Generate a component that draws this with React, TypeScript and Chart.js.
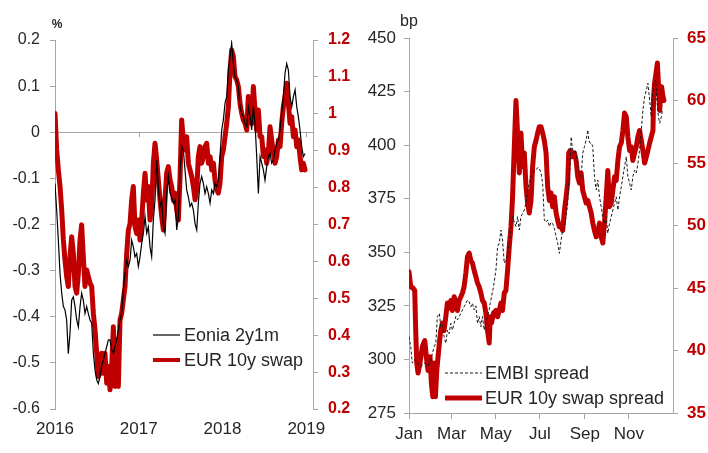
import React, { useEffect, useRef } from "react";
import { Chart, registerables } from "chart.js";

Chart.register(...registerables);

const FONT = "'Liberation Sans', Arial, sans-serif";
const RED = "#c00000";
const AXIS = "#a6a6a6";
const TEXT = "#262626";

// ---------- Left panel: Eonia 2y1m (%, left axis) vs EUR 10y swap (%, right axis), weekly ----------
const leftYears = [
  2016.000, 2016.020, 2016.040, 2016.060, 2016.080, 2016.100, 2016.119, 2016.139, 2016.159, 2016.179,
  2016.199, 2016.219, 2016.239, 2016.259, 2016.279, 2016.299, 2016.318, 2016.338, 2016.358, 2016.378,
  2016.398, 2016.418, 2016.438, 2016.458, 2016.478, 2016.498, 2016.517, 2016.537, 2016.557, 2016.577,
  2016.597, 2016.617, 2016.637, 2016.657, 2016.677, 2016.697, 2016.716, 2016.736, 2016.756, 2016.776,
  2016.796, 2016.816, 2016.836, 2016.856, 2016.876, 2016.896, 2016.915, 2016.935, 2016.955, 2016.975,
  2016.995, 2017.015, 2017.035, 2017.055, 2017.075, 2017.095, 2017.114, 2017.134, 2017.154, 2017.174,
  2017.194, 2017.214, 2017.234, 2017.254, 2017.274, 2017.294, 2017.313, 2017.333, 2017.353, 2017.373,
  2017.393, 2017.413, 2017.433, 2017.453, 2017.473, 2017.493, 2017.512, 2017.532, 2017.552, 2017.572,
  2017.592, 2017.612, 2017.632, 2017.652, 2017.672, 2017.692, 2017.711, 2017.731, 2017.751, 2017.771,
  2017.791, 2017.811, 2017.831, 2017.851, 2017.871, 2017.891, 2017.910, 2017.930, 2017.950, 2017.970,
  2017.990, 2018.010, 2018.030, 2018.050, 2018.070, 2018.090, 2018.109, 2018.129, 2018.149, 2018.169,
  2018.189, 2018.209, 2018.229, 2018.249, 2018.269, 2018.289, 2018.308, 2018.328, 2018.348, 2018.368,
  2018.388, 2018.408, 2018.428, 2018.448, 2018.468, 2018.488, 2018.507, 2018.527, 2018.547, 2018.567,
  2018.587, 2018.607, 2018.627, 2018.647, 2018.667, 2018.687, 2018.706, 2018.726, 2018.746, 2018.766,
  2018.786, 2018.806, 2018.826, 2018.846, 2018.866, 2018.886, 2018.905, 2018.925, 2018.945, 2018.965,
  2018.985,
];

const eonia2y1m = [
  -0.111, -0.169, -0.234, -0.306, -0.349, -0.378, -0.385, -0.407, -0.480, -0.436,
  -0.364, -0.357, -0.378, -0.407, -0.422, -0.378, -0.349, -0.364, -0.393, -0.378,
  -0.393, -0.407, -0.414, -0.479, -0.516, -0.537, -0.545, -0.530, -0.508, -0.494,
  -0.479, -0.465, -0.450, -0.450, -0.472, -0.479, -0.465, -0.450, -0.429, -0.407,
  -0.393, -0.342, -0.306, -0.277, -0.291, -0.277, -0.234, -0.248, -0.270, -0.263,
  -0.291, -0.270, -0.241, -0.219, -0.183, -0.219, -0.205, -0.248, -0.270, -0.190,
  -0.147, -0.060, -0.118, -0.161, -0.147, -0.205, -0.219, -0.132, -0.096, -0.132,
  -0.140, -0.154, -0.147, -0.212, -0.183,
  -0.082, -0.031, -0.039, -0.082, -0.125, -0.140, -0.161, -0.154, -0.169, -0.198,
  -0.212, -0.154, -0.111, -0.096, -0.111, -0.133, -0.118, -0.133, -0.154, -0.125,
  -0.133, -0.111, -0.118, -0.104, -0.053, 0.005, 0.027, 0.063, 0.077, 0.135,
  0.164, 0.193, 0.149, 0.120, 0.113, 0.099, 0.055, 0.041, 0.034, 0.019,
  0.012, 0.055, 0.034, 0.005, 0.055, 0.019, -0.053, -0.133, -0.053, -0.067,
  -0.082, -0.104, -0.075, -0.053, -0.046, -0.067, -0.060, -0.039, -0.024, -0.017,
  0.005, 0.041, 0.077, 0.128, 0.149, 0.135, 0.077, 0.055, 0.077, 0.092,
  0.055, 0.034, 0.005, -0.031, -0.053, -0.046,
];

const eur10ySwap = [
  1.001, 0.902, 0.848, 0.803, 0.739, 0.658, 0.604, 0.559, 0.532, 0.613,
  0.667, 0.622, 0.532, 0.514, 0.568, 0.658, 0.699, 0.613, 0.532, 0.577,
  0.559, 0.541, 0.532, 0.459, 0.414, 0.351, 0.288, 0.297, 0.351, 0.297,
  0.351, 0.270, 0.315, 0.252, 0.315, 0.423, 0.261, 0.387, 0.261, 0.441,
  0.459, 0.496, 0.532, 0.622, 0.685, 0.703, 0.766, 0.803, 0.694, 0.676,
  0.712, 0.658, 0.712, 0.785, 0.839, 0.766, 0.803, 0.712, 0.748, 0.866,
  0.920, 0.875, 0.821, 0.766, 0.721, 0.685, 0.766, 0.839, 0.857, 0.821,
  0.803, 0.766, 0.785, 0.739, 0.712,
  0.830, 0.983, 0.929, 0.902, 0.938, 0.866, 0.848, 0.830, 0.803, 0.767,
  0.794, 0.884, 0.911, 0.866, 0.884, 0.911, 0.920, 0.866, 0.884, 0.848,
  0.866, 0.821, 0.794, 0.785, 0.812, 0.884, 0.902, 0.938, 0.974, 1.019,
  1.119, 1.173, 1.155, 1.101, 1.092, 1.074, 1.028, 1.001, 0.983, 0.974,
  0.956, 1.047, 1.010, 0.974, 1.074, 1.010, 0.956, 1.010, 0.938, 0.938,
  0.884, 0.902, 0.866, 0.893, 0.965, 0.929, 0.893, 0.866, 0.884, 0.929,
  0.911, 0.974, 1.019, 1.047, 1.083, 1.028, 0.974, 0.992, 0.938, 0.956,
  0.911, 0.929, 0.884, 0.848, 0.866, 0.848,
];

const leftYearTicks = [2016, 2017, 2018, 2019];
const leftPctTicks = [-0.6, -0.5, -0.4, -0.3, -0.2, -0.1, 0, 0.1, 0.2];
const leftSwapTicks = [0.2, 0.3, 0.4, 0.5, 0.6, 0.7, 0.8, 0.9, 1.0, 1.1, 1.2];

// ---------- Right panel: EMBI spread (bp, left axis) vs EUR 10y swap spread (bp, right axis), day of year ----------
const spreadDays = [
  0, 2.4, 5.5, 7.9, 9.3, 10.7, 12.5, 15.2, 18.4, 21.8,
  24.5, 26.3, 29.1, 30.9, 32.9, 34.7, 36.5, 38.4, 40.2, 42.0,
  43.9, 46.2, 48.5, 50.9, 53.1, 55.4, 57.8, 60.0, 62.4, 64.7,
  67.0, 69.3, 71.7, 73.9, 76.2, 78.6, 80.8, 83.2, 85.5, 87.7,
  90.1, 92.5, 94.7, 97.0, 99.4, 101.6, 104.0, 106.3, 108.5, 110.9,
  112.3, 114.1, 116.9, 120.2, 122.4, 124.8, 127.1, 129.3, 131.7, 134.0,
  136.3, 138.6, 141.0, 143.2, 144.6, 147.9, 150.1, 152.5, 154.8, 157.1,
  159.4, 161.8, 164.0, 166.3, 168.7, 170.9, 173.3, 175.6, 177.9, 180.2,
  182.6, 184.8, 187.1, 189.5, 191.7, 194.1, 196.4, 198.6, 201.0, 203.4,
  205.6, 207.9, 210.3, 212.5, 214.9, 217.2, 219.4, 220.8, 222.8, 225.5,
  228.7, 231.1, 233.3, 235.7, 238.0, 240.2, 242.6, 244.9, 247.2, 249.5,
  251.9, 254.1, 256.4, 258.8, 261.0, 263.4, 265.7, 268.0, 270.3, 272.7,
  274.9, 277.2, 279.6, 281.8, 284.2, 286.5, 288.8, 291.1, 293.5, 295.7,
  298.0, 300.4, 302.6, 305.0, 307.3, 309.5, 311.9, 314.2, 316.5, 318.8,
  321.2, 323.4, 325.8, 328.1, 330.3, 332.7, 335.0, 337.3, 338.2, 339.6,
  342.0, 343.4, 344.8, 346.6, 348.0, 349.3, 351.1, 352.5,
];

const eurSwapSpread = [
  46.3, 45.1, 45.0, 44.8, 41.6, 39.0, 38.2, 39.0, 40.3, 40.8,
  39.2, 38.4, 39.5, 37.4, 36.3, 39.0, 36.3, 38.4, 39.5, 40.6,
  41.6, 42.2, 41.6, 42.7, 43.8, 43.4, 44.0, 43.2, 44.3, 43.8,
  43.2, 44.0, 44.3, 44.6, 45.1, 46.2, 47.5, 47.8, 47.2, 47.0,
  46.4, 45.9, 45.4, 45.1, 44.6, 44.0, 43.8, 43.0, 41.6, 40.6,
  42.7, 42.2, 43.0, 43.2, 42.7, 43.2, 43.8, 43.2, 44.6, 44.8,
  46.4, 48.3, 49.9, 52.3, 54.7, 60.0, 57.4, 54.2, 57.4, 54.7,
  55.8, 53.1, 51.8, 51.0, 52.0, 54.7, 56.3, 56.8, 57.4, 57.9,
  57.9, 57.4, 56.8, 55.8, 53.1, 52.0, 52.6, 51.5, 52.3, 51.0,
  50.4, 49.9, 49.9, 49.6, 51.2, 52.3, 53.4, 55.8, 56.0, 55.5,
  55.8, 55.2, 53.9, 53.4, 54.2, 52.8, 52.3, 51.8, 52.0, 51.5,
  51.0, 50.2, 49.6, 49.1, 49.4, 50.2, 49.1, 48.6, 50.2, 52.3,
  54.4, 51.5, 51.8, 52.8, 53.9, 53.6, 55.2, 56.3, 56.6, 57.6,
  59.0, 58.7, 57.1, 56.0, 56.3, 55.2, 55.8, 56.3, 57.1, 57.6,
  56.8, 56.0, 55.0, 55.5, 56.0, 56.6, 57.1, 57.6, 60.3, 61.4,
  62.4, 63.0, 61.4, 59.2, 60.6, 61.1, 60.3, 60.0,
];

const embiDays = [
  0, 2.4, 4.6, 7.9, 11.5, 16.2, 21.8, 26.3, 30.1, 34.7,
  37.0, 39.2, 42.0, 43.9, 46.2, 48.5, 50.9, 53.1, 55.4, 57.8,
  60.0, 62.4, 64.7, 67.0, 69.3, 71.7, 73.9, 76.2, 78.6, 80.8,
  83.2, 85.5, 87.7, 90.1, 92.5, 94.7, 97.0, 99.4, 101.6, 104.0,
  106.3, 108.5, 110.9, 112.3, 116.9, 120.2, 122.4, 124.8, 127.1, 129.3,
  131.7, 134.0, 136.3, 138.6, 141.0, 143.2, 144.6, 147.9, 150.1, 152.5,
  154.8, 159.4, 161.8, 164.0, 166.3, 168.7, 173.3, 175.6, 177.9, 180.2,
  182.6, 184.8, 187.1, 189.5, 191.7, 194.1, 196.4, 198.6, 201.0, 203.4,
  205.6, 207.9, 210.3, 212.5, 214.9, 217.2, 219.4, 220.8, 222.8, 224.2,
  225.6, 227.4, 230.2, 232.0, 234.7, 236.6, 238.4, 240.2, 242.6, 244.9,
  247.2, 248.5, 250.5, 252.3, 254.1, 256.4, 258.8, 261.0, 263.4, 265.7,
  268.0, 270.3, 272.7, 274.9, 277.2, 279.6, 281.8, 284.2, 286.5, 288.8,
  291.1, 293.5, 295.7, 298.0, 300.4, 302.6, 305.0, 307.3, 309.5, 311.9,
  314.2, 316.5, 318.8, 321.2, 323.4, 325.8, 328.1, 330.3, 332.7, 335.0,
  336.4, 338.2, 341.0, 342.8, 344.8, 346.6, 348.9, 350.4,
];

const embiSpread = [
  310.6, 305.9, 298.3, 300.0, 298.3, 296.6, 298.3, 297.0, 299.7, 305.9,
  307.5, 320.0, 321.5, 315.3, 316.0, 310.6, 307.5, 313.7, 312.0, 316.8,
  313.7, 316.8, 320.0, 318.5, 320.0, 321.5, 323.0, 324.6, 326.2, 327.7,
  326.9, 324.6, 326.2, 323.1, 325.0, 316.8, 320.0, 315.3, 320.0, 313.7,
  316.8, 320.0, 323.1, 326.2, 334.0, 341.7, 352.6, 354.2, 360.4, 355.7,
  344.9, 346.4, 349.5, 354.2, 360.4, 366.6, 365.1, 362.0, 366.6, 360.4,
  366.6, 369.7, 372.9, 379.1, 382.2, 385.3, 388.0, 388.4, 389.5, 389.2,
  386.9, 382.0, 365.1, 364.0, 365.1, 362.0, 364.0, 363.5, 361.0, 357.3,
  354.2, 349.5, 355.7, 360.4, 362.0, 366.6, 372.9, 382.2, 391.5, 403.9,
  399.3, 396.2, 397.7, 393.1, 388.4, 385.3, 386.9, 396.2, 399.3, 402.4,
  407.1, 402.4, 400.9, 400.9, 399.3, 385.3, 379.1, 383.7, 375.9, 371.3,
  366.6, 363.5, 366.6, 358.9, 363.5, 366.6, 369.7, 372.8, 375.9, 369.7,
  375.9, 380.6, 385.3, 390.0, 394.6, 385.3, 382.2, 379.1, 385.3, 388.4,
  387.0, 391.5, 397.7, 407.1, 416.4, 422.6, 425.7, 428.9, 421.1, 413.3,
  422.6, 428.9, 430.4, 421.1, 413.3, 410.2, 413.3, 416.4,
];

const monthTickDays = [0, 59, 120, 181, 243, 304];
const monthTickLabels = ["Jan", "Mar", "May", "Jul", "Sep", "Nov"];
const bpTicks = [275, 300, 325, 350, 375, 400, 425, 450];
const swapSpreadTicks = [35, 40, 45, 50, 55, 60, 65];

// ---------- helpers ----------
const pts = (xs: number[], ys: number[]) => xs.map((x, i) => ({ x, y: ys[i] }));
const fmt = (v: number) => String(Number(v.toFixed(2)));
const setTicks = (vals: number[]) => (scale: any) => {
  scale.ticks = vals.map((value) => ({ value }));
};
const fixWidth = (w: number) => (scale: any) => {
  scale.width = w;
};
const fixHeight = (h: number) => (scale: any) => {
  scale.height = h;
};

function drawLegend(chart: any, x1: number, x2: number, tx: number, ys: number[]) {
  const ctx = chart.ctx;
  chart.data.datasets.forEach((ds: any, i: number) => {
    const y = ys[i];
    ctx.save();
    ctx.strokeStyle = ds.borderColor;
    ctx.lineWidth = ds.legendWidth ?? ds.borderWidth;
    ctx.setLineDash(ds.borderDash || []);
    ctx.beginPath();
    ctx.moveTo(x1, y);
    ctx.lineTo(x2, y);
    ctx.stroke();
    ctx.setLineDash([]);
    ctx.fillStyle = TEXT;
    ctx.font = `18px ${FONT}`;
    ctx.textAlign = "left";
    ctx.textBaseline = "middle";
    ctx.fillText(ds.label, tx, y + 1);
    ctx.restore();
  });
}

const leftOverlay = {
  id: "leftOverlay",
  beforeDatasetsDraw(chart: any) {
    const { x, y } = chart.scales;
    const y0 = y.getPixelForValue(0);
    const ctx = chart.ctx;
    ctx.save();
    ctx.strokeStyle = AXIS;
    ctx.lineWidth = 1;
    leftYearTicks.forEach((v) => {
      const px = Math.round(x.getPixelForValue(v)) + 0.5;
      ctx.beginPath();
      ctx.moveTo(px, y0);
      ctx.lineTo(px, y0 + 5);
      ctx.stroke();
    });
    ctx.restore();
  },
  afterDraw(chart: any) {
    const ca = chart.chartArea;
    const ctx = chart.ctx;
    ctx.save();
    ctx.fillStyle = TEXT;
    ctx.font = `bold 12px ${FONT}`;
    ctx.textAlign = "center";
    ctx.textBaseline = "middle";
    ctx.fillText("%", ca.left + 2, ca.top - 15);
    ctx.restore();
    drawLegend(chart, ca.left + 98, ca.left + 125, ca.left + 129, [ca.top + 295, ca.top + 320]);
  },
};

const rightOverlay = {
  id: "rightOverlay",
  afterDraw(chart: any) {
    const ca = chart.chartArea;
    const ctx = chart.ctx;
    ctx.save();
    ctx.fillStyle = TEXT;
    ctx.font = `16px ${FONT}`;
    ctx.textAlign = "left";
    ctx.textBaseline = "middle";
    ctx.fillText("bp", ca.left - 9, ca.top - 16);
    ctx.restore();
    drawLegend(chart, ca.left + 36, ca.left + 73, ca.left + 76, [ca.top + 335, ca.top + 360]);
  },
};

function makeLeftConfig(): any {
  return {
    type: "line",
    data: {
      datasets: [
        {
          label: "Eonia 2y1m",
          data: pts(leftYears, eonia2y1m),
          borderColor: "#000000",
          borderWidth: 1.2,
          pointRadius: 0,
          tension: 0,
          yAxisID: "y",
        },
        {
          label: "EUR 10y swap",
          data: pts(leftYears, eur10ySwap),
          borderColor: RED,
          borderWidth: 5,
          legendWidth: 4,
          borderJoinStyle: "round",
          borderCapStyle: "round",
          pointRadius: 0,
          tension: 0,
          yAxisID: "y1",
        },
      ],
    },
    options: {
      animation: false,
      responsive: false,
      devicePixelRatio: 1,
      layout: { padding: { top: 40, left: 0, right: 0, bottom: 0 } },
      plugins: { legend: { display: false }, tooltip: { enabled: false } },
      scales: {
        x: {
          type: "linear",
          min: 2016,
          max: 2019.08,
          afterBuildTicks: setTicks(leftYearTicks),
          afterFit: fixHeight(44),
          grid: { display: false, drawTicks: false },
          border: { display: false },
          ticks: {
            callback: (v: number) => String(v),
            color: TEXT,
            font: { family: FONT, size: 17 },
            padding: 10,
            maxRotation: 0,
            autoSkip: false,
          },
        },
        y: {
          position: "left",
          min: -0.6,
          max: 0.2,
          afterBuildTicks: setTicks(leftPctTicks),
          afterFit: fixWidth(55),
          grid: {
            drawOnChartArea: true,
            color: (c: any) => (c.tick && Math.abs(c.tick.value) < 1e-9 ? AXIS : "rgba(0,0,0,0)"),
            tickColor: AXIS,
            tickLength: 5,
            lineWidth: 1,
          },
          border: { display: true, color: AXIS, width: 1 },
          ticks: {
            callback: (v: number) => fmt(v),
            color: TEXT,
            font: { family: FONT, size: 16 },
            padding: 10,
          },
        },
        y1: {
          position: "right",
          min: 0.2,
          max: 1.2,
          afterBuildTicks: setTicks(leftSwapTicks),
          afterFit: fixWidth(41),
          grid: { drawOnChartArea: false, tickColor: AXIS, tickLength: 5 },
          border: { display: true, color: AXIS, width: 1 },
          ticks: {
            callback: (v: number) => fmt(v),
            color: RED,
            font: { family: FONT, size: 16, weight: "bold" },
            padding: 10,
          },
        },
      },
    },
    plugins: [leftOverlay],
  };
}

function makeRightConfig(): any {
  return {
    type: "line",
    data: {
      datasets: [
        {
          label: "EMBI spread",
          data: pts(embiDays, embiSpread),
          borderColor: "#1a1a1a",
          borderWidth: 1,
          borderDash: [3, 2],
          pointRadius: 0,
          tension: 0,
          yAxisID: "y",
        },
        {
          label: "EUR 10y swap spread",
          data: pts(spreadDays, eurSwapSpread),
          borderColor: RED,
          borderWidth: 5,
          legendWidth: 5,
          borderJoinStyle: "round",
          borderCapStyle: "round",
          pointRadius: 0,
          tension: 0,
          yAxisID: "y1",
        },
      ],
    },
    options: {
      animation: false,
      responsive: false,
      devicePixelRatio: 1,
      layout: { padding: { top: 38, left: 0, right: 0, bottom: 0 } },
      plugins: { legend: { display: false }, tooltip: { enabled: false } },
      scales: {
        x: {
          type: "linear",
          min: 0,
          max: 365,
          afterBuildTicks: setTicks(monthTickDays),
          afterFit: fixHeight(40),
          grid: { display: true, drawOnChartArea: false, drawTicks: true, tickLength: 6, color: AXIS, tickColor: AXIS },
          border: { display: true, color: AXIS, width: 1 },
          ticks: {
            callback: (_v: number, i: number) => monthTickLabels[i],
            color: TEXT,
            font: { family: FONT, size: 17 },
            padding: 5,
            maxRotation: 0,
            autoSkip: false,
          },
        },
        y: {
          position: "left",
          min: 275,
          max: 450,
          afterBuildTicks: setTicks(bpTicks),
          afterFit: fixWidth(55),
          grid: { drawOnChartArea: false, tickColor: AXIS, tickLength: 5 },
          border: { display: true, color: AXIS, width: 1 },
          ticks: {
            callback: (v: number) => fmt(v),
            color: TEXT,
            font: { family: FONT, size: 17 },
            padding: 8,
          },
        },
        y1: {
          position: "right",
          min: 35,
          max: 65,
          afterBuildTicks: setTicks(swapSpreadTicks),
          afterFit: fixWidth(35),
          grid: { drawOnChartArea: false, tickColor: AXIS, tickLength: 5 },
          border: { display: true, color: AXIS, width: 1 },
          ticks: {
            callback: (v: number) => fmt(v),
            color: RED,
            font: { family: FONT, size: 17, weight: "bold" },
            padding: 9,
          },
        },
      },
    },
    plugins: [rightOverlay],
  };
}

function ChartCanvas({ make, left, width, height }: { make: () => any; left: number; width: number; height: number }) {
  const ref = useRef<HTMLCanvasElement | null>(null);
  useEffect(() => {
    if (!ref.current) return;
    const chart = new Chart(ref.current, make());
    return () => chart.destroy();
  }, [make]);
  return (
    <canvas
      ref={ref}
      width={width}
      height={height}
      style={{ position: "absolute", left, top: 0, width, height, display: "block" }}
    />
  );
}

export default function App() {
  return (
    <div
      style={{
        position: "fixed",
        left: 0,
        top: 0,
        width: 708,
        height: 453,
        background: "#ffffff",
        overflow: "hidden",
      }}
    >
      <ChartCanvas make={makeLeftConfig} left={0} width={354} height={453} />
      <ChartCanvas make={makeRightConfig} left={354} width={354} height={453} />
    </div>
  );
}
